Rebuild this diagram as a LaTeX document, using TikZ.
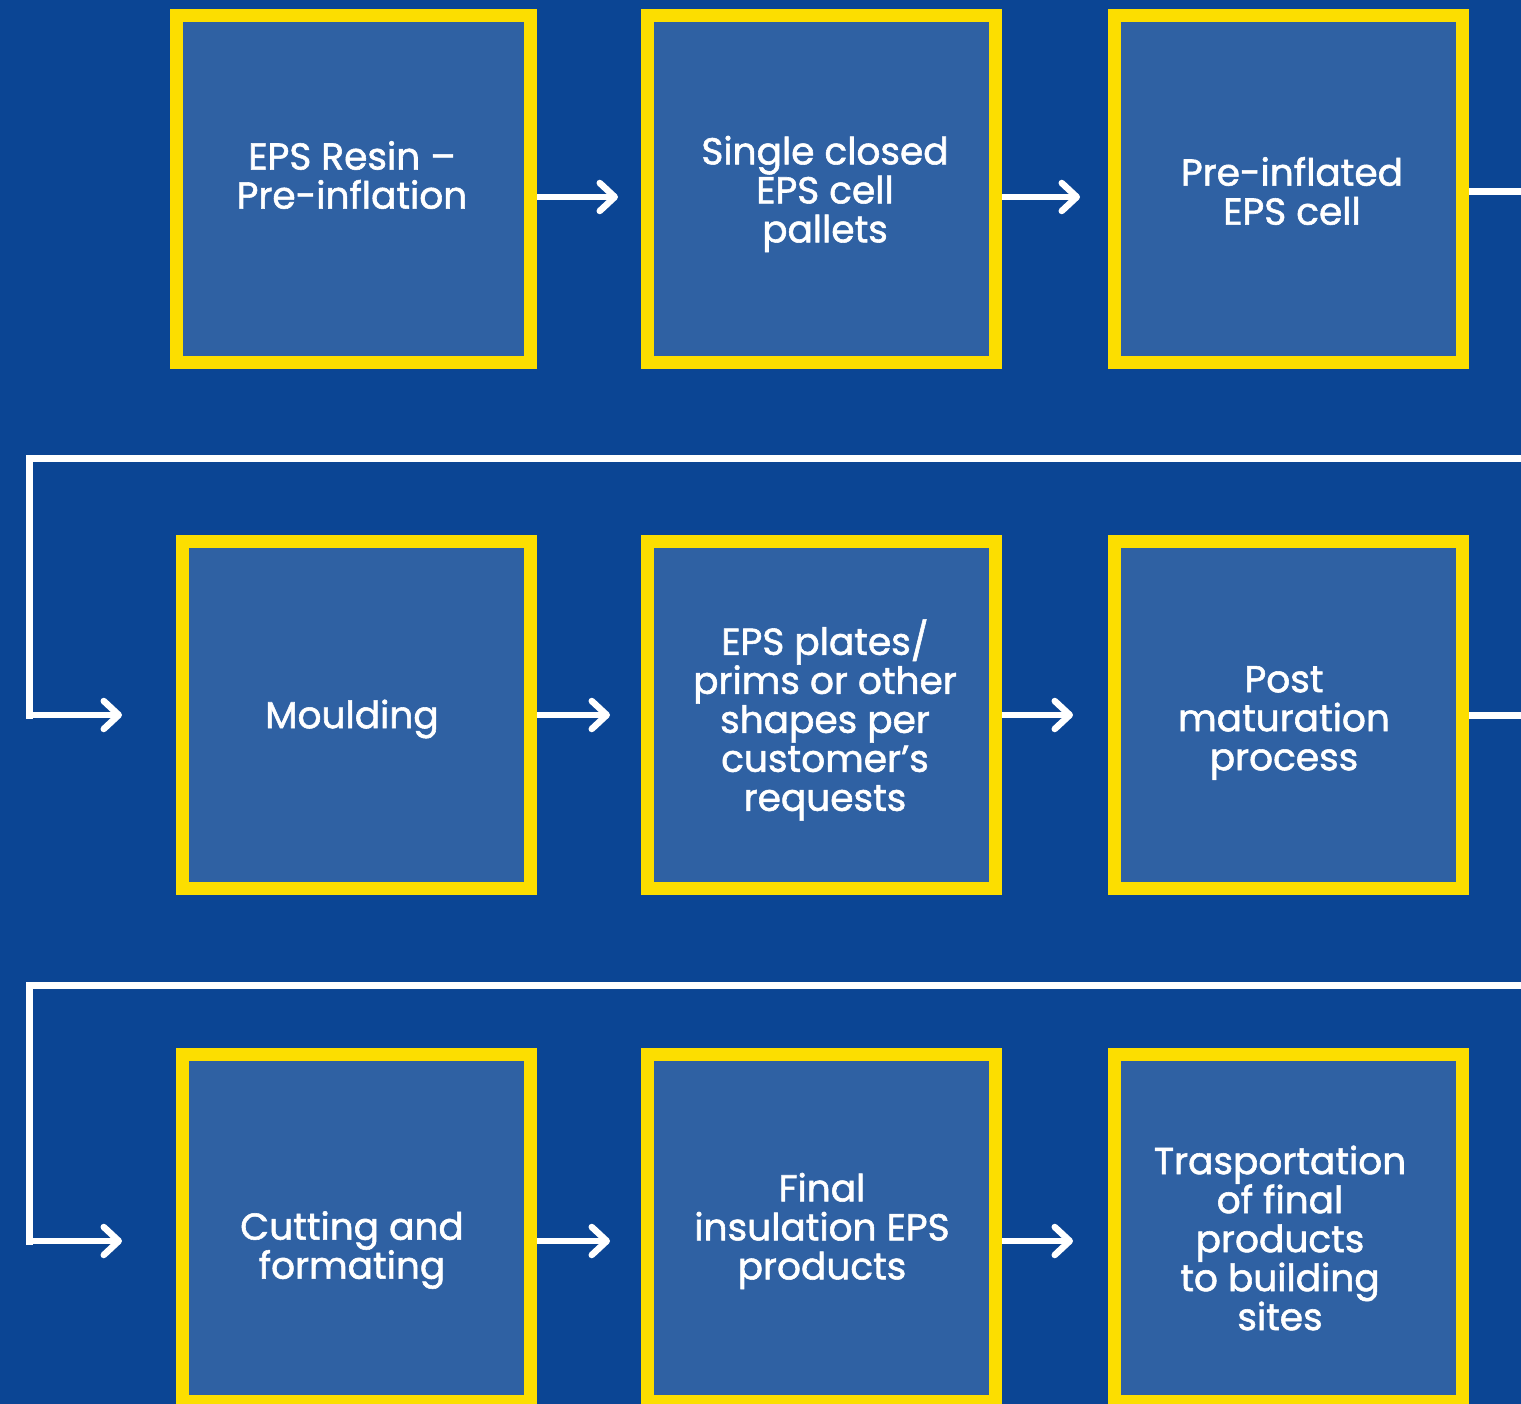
\documentclass[tikz,border=0pt]{standalone}
\usepackage{fontspec}
\setmainfont{Poppins}
\newfontfamily\lblfont{Poppins}[FakeBold=1.5]
\usetikzlibrary{arrows.meta}
\definecolor{bgblue}{RGB}{11,69,148}
\definecolor{boxblue}{RGB}{47,97,163}
\definecolor{ylw}{RGB}{252,222,0}
\tikzset{
  stepbox/.style={draw=ylw, fill=boxblue, line width=13pt, minimum width=348pt, minimum height=347pt, inner sep=0pt},
  lbl/.style={text=white, align=center, font=\lblfont\fontsize{37.5}{39}\selectfont, inner sep=0pt},
  arr/.style={draw=white, line width=6.5pt, -{Straight Barb[length=15pt,width=28pt,round]}},
  conn/.style={draw=white, line width=7pt}
}
\begin{document}
\begin{tikzpicture}[x=1pt,y=-1pt]
\useasboundingbox (0,0) rectangle (1521,1404);
\clip (0,0) rectangle (1521,1404);
\fill[bgblue] (0,0) rectangle (1521,1404);
% boxes
\node[stepbox, minimum width=354pt] (b1) at (353.5,189) {};
\node[stepbox] (b2) at (821.5,189) {};
\node[stepbox] (b3) at (1288.5,189) {};
\node[stepbox] (b4) at (356.5,715) {};
\node[stepbox] (b5) at (821.5,715) {};
\node[stepbox] (b6) at (1288.5,715) {};
\node[stepbox] (b7) at (356.5,1228) {};
\node[stepbox] (b8) at (821.5,1228) {};
\node[stepbox] (b9) at (1288.5,1228) {};
% labels
\node[lbl] (t1) at (352,175) {EPS Resin –\\Pre-inflation};
\node[lbl] (t2) at (825,194) {Single closed\\EPS cell\\pallets};
\node[lbl] (t3) at (1292,191) {Pre-inflated\\EPS cell};
\node[lbl] (t4) at (352,719) {Moulding};
\node[lbl] (t5) at (825,720) {EPS plates/\\prims or other\\shapes per\\customer’s\\requests};
\node[lbl] (t6) at (1284,723) {Post\\maturation\\process};
\node[lbl] (t7) at (352,1250) {Cutting and\\formating};
\node[lbl] (t8) at (822,1231) {Final\\insulation EPS\\products};
\node[lbl] (t9) at (1280,1238) {Trasportation\\of final\\products\\to building\\sites};
% coordinates for connectors
\coordinate (r1) at (1521,192);
\coordinate (r2) at (1521,715);
\coordinate (l1a) at (1521,458);
\coordinate (l1b) at (29.5,458);
\coordinate (l1c) at (29.5,715);
\coordinate (l1d) at (122,715);
\coordinate (l2a) at (1521,985);
\coordinate (l2b) at (29.5,985);
\coordinate (l2c) at (29.5,1241);
\coordinate (l2d) at (122,1241);
% row 1 arrows
\draw[arr] (b1.east |- 0,197) -- ([xshift=-23pt]b2.west |- 0,197);
\draw[arr] (b2.east |- 0,197) -- ([xshift=-28pt]b3.west |- 0,197);
\draw[conn] (b3.east |- r1) -- (r1);
% loop 1
\draw[conn, line cap=rect] (l1a) -- (l1b) -- (l1c);
\draw[arr] ([xshift=-3.5pt]l1c) -- (l1d);
% row 2 arrows
\draw[arr] (b4.east) -- ([xshift=-31pt]b5.west);
\draw[arr] (b5.east) -- ([xshift=-35pt]b6.west);
\draw[conn] (b6.east) -- (r2);
% loop 2
\draw[conn, line cap=rect] (l2a) -- (l2b) -- (l2c);
\draw[arr] ([xshift=-3.5pt]l2c) -- (l2d);
% row 3 arrows
\draw[arr] (b7.east |- l2c) -- ([xshift=-31pt]b8.west |- l2c);
\draw[arr] (b8.east |- l2c) -- ([xshift=-35pt]b9.west |- l2c);
\end{tikzpicture}
\end{document}
